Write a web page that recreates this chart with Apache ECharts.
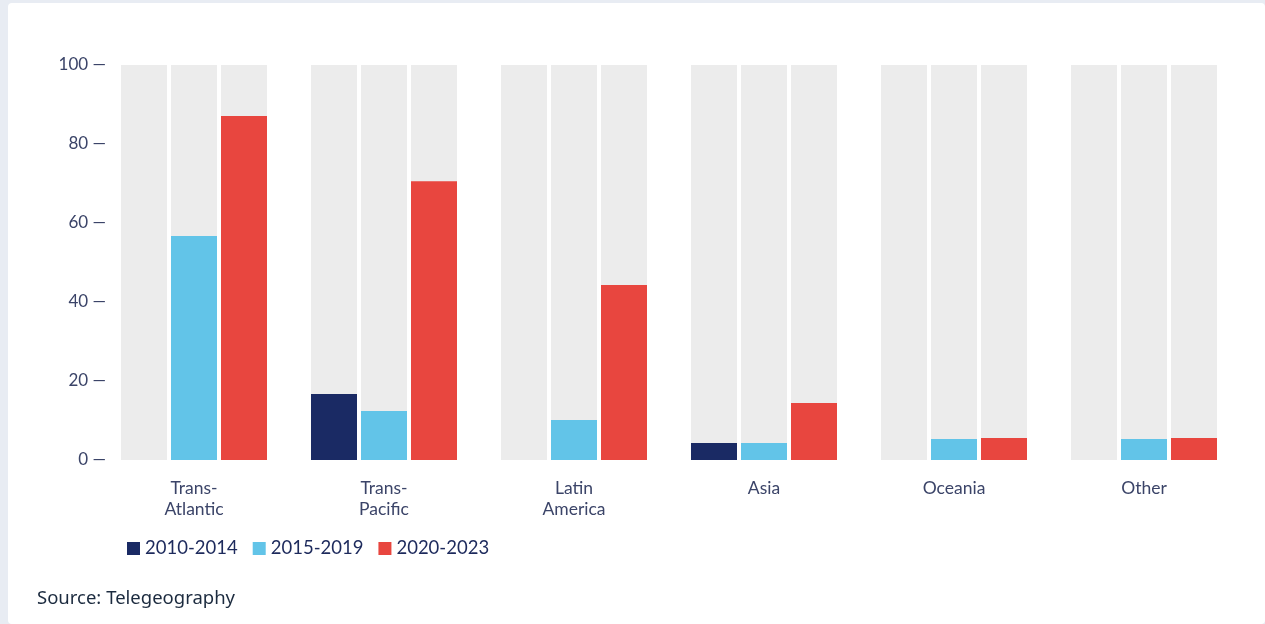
<!DOCTYPE html>
<html>
<head>
<meta charset="utf-8">
<script src="https://cdn.jsdelivr.net/npm/echarts@6/dist/echarts.min.js"></script>
<style>
  html, body { margin: 0; padding: 0; width: 1265px; height: 624px; background: #e8ecf3; overflow: hidden; }
  #card { position: absolute; left: 8px; top: 3px; width: 1257px; height: 621px; background: #ffffff; border-radius: 4px; }
  #chart { position: absolute; left: 0; top: 0; width: 1265px; height: 624px; }
</style>
</head>
<body>
<div id="card"></div>
<div id="chart"></div>
<script>
const categories = ['Trans-\nAtlantic', 'Trans-\nPacific', 'Latin\nAmerica', 'Asia', 'Oceania', 'Other'];
const seriesNames = ['2010-2014', '2015-2019', '2020-2023'];
const values2010_2014 = [0, 16.7, 0, 4.3, 0, 0];
const values2015_2019 = [56.7, 12.4, 10.1, 4.3, 5.3, 5.3];
const values2020_2023 = [87.1, 70.6, 44.3, 14.4, 5.6, 5.6];
const yTicks = [0, 20, 40, 60, 80, 100];
const colors = ['#1a2a64', '#62c4e8', '#e8463f'];

const chart = echarts.init(document.getElementById('chart'));
const seriesData = [values2010_2014, values2015_2019, values2020_2023];
chart.setOption({
  animation: false,
  color: colors,
  grid: { left: 99, right: 26, top: 65, bottom: 164, containLabel: false },
  title: {
    text: 'Source: Telegeography',
    left: 37, top: 589, padding: 0,
    textStyle: { fontFamily: 'Noto Sans', fontWeight: 'normal', fontSize: 18.5, color: '#1c2b3f' }
  },
  legend: {
    left: 127, top: 539, padding: 0,
    icon: 'rect', itemWidth: 13, itemHeight: 13, itemGap: 15,
    data: seriesNames,
    textStyle: { fontFamily: 'Lato', fontSize: 18.5, color: '#1d2a5c' }
  },
  xAxis: {
    type: 'category',
    data: categories,
    axisLine: { show: false },
    axisTick: { show: false },
    axisLabel: { margin: 18, fontFamily: 'Lato', fontSize: 17.5, color: '#3b4468', lineHeight: 21 }
  },
  yAxis: {
    type: 'value',
    min: yTicks[0], max: yTicks[yTicks.length - 1], interval: 20,
    splitLine: { show: false },
    axisLine: { show: false },
    axisTick: { show: false },
    axisLabel: {
      margin: -7, fontFamily: 'Lato', fontSize: 17, color: '#3b4468',
      formatter: v => v + ' \u2014'
    }
  },
  series: seriesNames.map((name, i) => ({
    name: name,
    type: 'bar',
    data: seriesData[i],
    barWidth: 46,
    barGap: '8.7%',
    showBackground: true,
    backgroundStyle: { color: '#ececec' },
    itemStyle: { color: colors[i] }
  }))
});
</script>
</body>
</html>
